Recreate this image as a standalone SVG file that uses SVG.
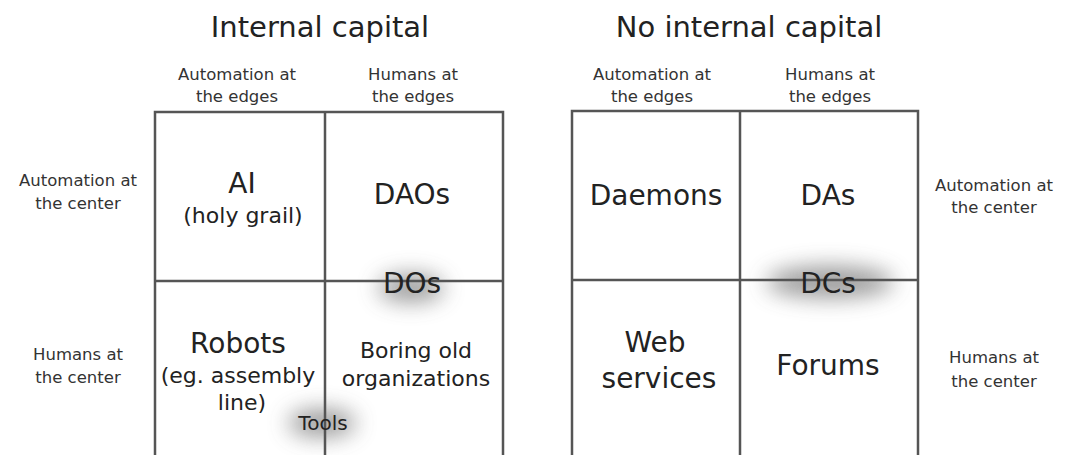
<svg xmlns="http://www.w3.org/2000/svg" width="1067" height="455" viewBox="0 0 1067 455">
<defs>
<style>
text{font-family:"DejaVu Sans",sans-serif;fill:#222;text-anchor:middle}
.t{font-size:29px}
.h{font-size:16.5px;fill:#333}
.b{font-size:28px}
.m{font-size:22px}
.s{font-size:20px}
.g{fill:none;stroke:#555;stroke-width:2.5}
</style>
<filter id="blur" x="-80%" y="-150%" width="260%" height="400%"><feGaussianBlur stdDeviation="11"/></filter>
</defs>
<rect width="1067" height="455" fill="#fff"/>
<g id="titles">
<text class="t" x="320" y="37">Internal capital</text>
<text class="t" x="749" y="37">No internal capital</text>
</g>
<g id="headers">
<text class="h" x="237" y="80">Automation at</text><text class="h" x="237" y="102">the edges</text>
<text class="h" x="413" y="80">Humans at</text><text class="h" x="413" y="102">the edges</text>
<text class="h" x="652" y="80">Automation at</text><text class="h" x="652" y="102">the edges</text>
<text class="h" x="830" y="80">Humans at</text><text class="h" x="830" y="102">the edges</text>
<text class="h" x="78" y="186">Automation at</text><text class="h" x="78" y="209">the center</text>
<text class="h" x="78" y="360">Humans at</text><text class="h" x="78" y="383">the center</text>
<text class="h" x="994" y="191">Automation at</text><text class="h" x="994" y="213">the center</text>
<text class="h" x="994" y="363">Humans at</text><text class="h" x="994" y="387">the center</text>
</g>
<g id="shadows" fill="#8a8a8a" opacity="0.85" filter="url(#blur)">
<ellipse cx="411" cy="288" rx="33" ry="14"/>
<ellipse cx="830" cy="282" rx="64" ry="16"/>
<ellipse cx="322" cy="423" rx="34" ry="14"/>
</g>
<g id="connectors">
<polyline class="g" points="155,456 155,112 503,112 503,456"/>
<line class="g" x1="325" y1="112" x2="325" y2="456"/>
<line class="g" x1="155" y1="281" x2="503" y2="281"/>
<polyline class="g" points="572,456 572,111 918,111 918,456"/>
<line class="g" x1="740" y1="111" x2="740" y2="456"/>
<line class="g" x1="572" y1="280" x2="918" y2="280"/>
</g>
<g id="ai"><text class="b" x="242" y="193">AI</text><text class="m" x="243" y="223">(holy grail)</text></g>
<g id="daos"><text class="b" x="412" y="204">DAOs</text></g>
<g id="dos"><text class="b" x="412" y="293">DOs</text></g>
<g id="robots"><text class="b" x="238" y="353">Robots</text><text class="m" x="238" y="383">(eg. assembly</text><text class="m" x="242" y="410">line)</text></g>
<g id="boring"><text class="m" x="416" y="358">Boring old</text><text class="m" x="416" y="386">organizations</text></g>
<g id="tools"><text class="s" x="323" y="430">Tools</text></g>
<g id="daemons"><text class="b" x="656" y="205">Daemons</text></g>
<g id="das"><text class="b" x="828" y="205">DAs</text></g>
<g id="dcs"><text class="b" x="828" y="293">DCs</text></g>
<g id="web"><text class="b" x="655" y="352">Web</text><text class="b" x="659" y="388">services</text></g>
<g id="forums"><text class="b" x="828" y="375">Forums</text></g>
</svg>
